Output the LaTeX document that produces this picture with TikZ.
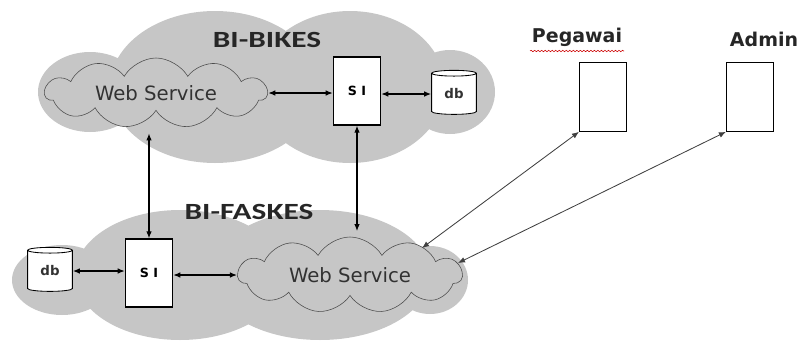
\documentclass[tikz,border=0pt]{standalone}
\usepackage{fontspec}
\setmainfont{DejaVu Sans}
\newfontfamily\calfont[FakeStretch=1.35]{Carlito}
\usetikzlibrary{shapes.symbols,shapes.geometric,arrows.meta,decorations.pathmorphing}
\definecolor{nuvola}{RGB}{198,198,198}
\definecolor{testo}{RGB}{50,50,50}
\tikzset{
  servizio/.style={cloud,cloud puffs=11,cloud puff arc=120,cloud ignores aspect,draw=black!70,fill=nuvola,
    inner sep=0pt,text=testo,font=\fontsize{14}{16}\selectfont},
  sistema/.style={draw,line width=0.9pt,fill=white,minimum width=1.18cm,minimum height=1.7cm,inner sep=0pt,
    font=\bfseries\fontsize{9}{10}\selectfont},
  dati/.style={cylinder,shape border rotate=90,aspect=0.3,draw,line width=0.6pt,fill=white,
    minimum width=1.12cm,minimum height=1.1cm,inner sep=0pt,font=\bfseries\fontsize{9.5}{10}\selectfont,text=testo},
  titolo/.style={font=\calfont\bfseries\fontsize{16.5}{18}\selectfont,text=black!85},
  utente/.style={font=\bfseries\fontsize{13.5}{15}\selectfont,text=black!85},
  terminale/.style={draw,line width=0.6pt,fill=white,minimum width=1.18cm,minimum height=1.72cm,inner sep=0pt},
  freccia/.style={{Latex[length=5pt,width=4pt]}-{Latex[length=5pt,width=4pt]},line width=0.9pt},
  freccina/.style={{Latex[length=5pt,width=4pt]}-{Latex[length=5pt,width=4pt]},line width=0.6pt,black!75}
}
\begin{document}
\begin{tikzpicture}[x=0.025cm,y=-0.025cm]
  \useasboundingbox (0,0) rectangle (802,343);
  %nuvole grigie
  \fill[nuvola] (90,92) ellipse [x radius=52,y radius=40]
    (215,87) ellipse [x radius=105,y radius=76]
    (350,87) ellipse [x radius=95,y radius=76]
    (450,92) ellipse [x radius=45,y radius=42];
  \fill[nuvola] (62,280) ellipse [x radius=50,y radius=35]
    (180,275) ellipse [x radius=105,y radius=65]
    (320,275) ellipse [x radius=110,y radius=65]
    (430,280) ellipse [x radius=38,y radius=34];
  \node[titolo] (tbikes) at (267,40) {BI-BIKES};
  \node[titolo] (tfaskes) at (249,212) {BI-FASKES};
  %BI-BIKES
  \node[servizio,minimum width=5.55cm,minimum height=1.75cm] (wsA) at (156,93) {Web Service};
  \node[sistema] (siA) at (357,91) {S I};
  \node[dati] (dbA) at (454,94) {db};
  \draw[freccia] (wsA.east) -- (wsA.east -| siA.west);
  \draw[freccia] (siA.east |- dbA.west) -- (dbA.west);
  %BI-FASKES
  \node[servizio,minimum width=5.6cm,minimum height=1.9cm] (wsB) at (350,275) {Web Service};
  \node[sistema] (siB) at (149,273) {S I};
  \node[dati] (dbB) at (50,271) {db};
  \draw[freccia] (dbB.east) -- (dbB.east -| siB.west);
  \draw[freccia] (siB.east |- wsB.west) -- (wsB.west);
  %collegamenti
  \draw[freccia] (siB.north) -- ([yshift=-16]siB.north |- wsA.south);
  \draw[freccia] (siA.south) -- ([yshift=4]siA.south |- wsB.north);
  %utenti
  \node[terminale] (peg) at (603,97) {};
  \node[terminale] (adm) at (750,97) {};
  \node[utente,anchor=south east] (tpeg) at (627,52) {Pegawai};
  \node[utente,anchor=south west] (tadm) at (725,52) {Admin};
  \draw[red!80!black,line width=0.4pt,decorate,decoration={snake,amplitude=0.5pt,segment length=2.5pt}]
    ([shift={(3,-1)}]tpeg.south west) -- ([shift={(-3,-1)}]tpeg.south east);
  \draw[freccina] (peg.south west) -- ([shift={(72,-27)}]wsB.center);
  \draw[freccina] (adm.south west) -- ([shift={(108,-12)}]wsB.center);
\end{tikzpicture}
\end{document}
